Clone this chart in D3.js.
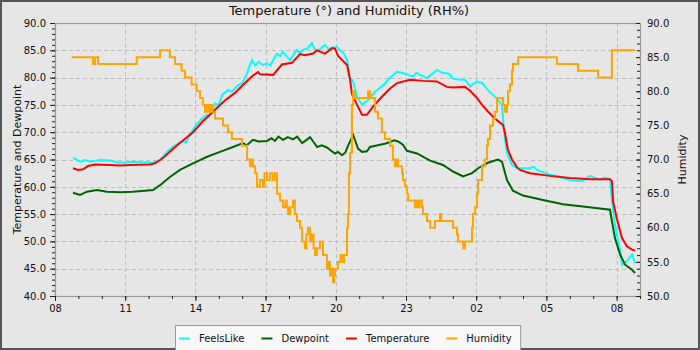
<!DOCTYPE html>
<html><head><meta charset="utf-8">
<script src="https://cdn.jsdelivr.net/npm/d3@7"></script>
<style>
body{margin:0;background:#fff;}
svg{display:block;font-family:"DejaVu Sans",sans-serif;}
</style></head>
<body><svg id="c" width="700" height="350"></svg>
<script>
// ---- data (x = clock hours since 00:00 of day 1; >24 = next day) ----
const title = "Temperature (°) and Humidity (RH%)";
const xTickHours = [8, 11, 14, 17, 20, 23, 26, 29, 32];
const tempTicks = [40, 45, 50, 55, 60, 65, 70, 75, 80, 85, 90];
const humTicks = [50, 55, 60, 65, 70, 75, 80, 85, 90];
const seriesNames = ["FeelsLike", "Dewpoint", "Temperature", "Humidity"];
const seriesColors = ["#00ffff", "#006400", "#ff0000", "#ffa500"];

const feelsLike = [[8.77,65.3],[9.07,64.6],[9.28,64.9],[9.50,64.6],[9.92,64.9],[10.35,64.8],[10.56,64.6],[10.78,64.4],[11.33,64.6],[12.19,64.4],[12.49,64.9],[12.79,66.4],[13.04,67.3],[13.43,68.3],[13.60,68.1],[13.77,69.6],[13.98,71.0],[14.28,72.5],[14.50,73.2],[14.60,72.9],[14.84,75.3],[15.00,75.0],[15.14,76.8],[15.39,77.7],[15.55,77.4],[15.82,78.6],[16.00,79.0],[16.12,80.0],[16.21,80.8],[16.30,82.0],[16.42,83.2],[16.55,82.2],[16.70,82.9],[16.89,82.3],[17.06,82.6],[17.20,82.2],[17.40,83.8],[17.49,84.4],[17.62,84.0],[17.74,84.7],[17.90,83.9],[18.04,83.2],[18.20,84.3],[18.34,85.1],[18.47,84.5],[18.60,85.1],[18.80,85.4],[18.98,86.3],[19.10,85.2],[19.24,84.9],[19.40,85.5],[19.54,86.0],[19.70,85.2],[19.88,85.5],[20.05,85.6],[20.18,85.0],[20.35,84.4],[20.48,83.2],[20.61,80.0],[20.74,79.3],[20.91,76.5],[21.12,75.0],[21.38,75.9],[21.68,77.4],[22.02,78.6],[22.32,80.0],[22.62,81.1],[22.87,80.8],[23.10,80.5],[23.30,80.2],[23.45,80.9],[23.60,80.5],[23.90,79.9],[24.10,80.6],[24.32,81.4],[24.55,80.9],[24.75,80.8],[24.88,80.5],[25.01,79.8],[25.31,79.6],[25.52,79.6],[25.74,78.4],[26.03,79.3],[26.25,79.0],[26.50,77.7],[26.80,76.5],[27.10,75.0],[27.15,72.2],[27.23,68.6],[27.32,66.1],[27.53,64.0],[27.74,63.4],[28.30,63.4],[28.45,63.7],[28.60,63.1],[29.15,62.2],[29.50,61.9],[30.01,61.2],[30.52,61.0],[30.86,62.0],[31.29,61.3],[31.50,61.7],[31.72,61.4],[31.80,57.6],[31.93,53.0],[32.15,48.2],[32.23,45.7],[32.44,46.4],[32.66,47.6],[32.71,47.0],[32.79,46.0]];

const dewpoint = [[8.77,58.9],[9.07,58.5],[9.37,59.1],[9.79,59.4],[10.22,59.1],[10.78,59.0],[11.33,59.1],[12.19,59.4],[12.49,60.3],[12.91,61.8],[13.34,63.1],[13.90,64.3],[14.50,65.5],[15.05,66.4],[15.61,67.3],[16.03,68.0],[16.20,67.6],[16.46,68.6],[16.70,68.3],[17.06,68.4],[17.25,68.9],[17.40,68.4],[17.55,69.2],[17.74,68.6],[17.95,69.1],[18.17,68.7],[18.35,69.2],[18.56,68.0],[18.75,68.6],[18.90,69.1],[19.05,68.2],[19.20,67.3],[19.40,67.6],[19.62,67.2],[19.80,66.6],[19.97,66.1],[20.10,66.4],[20.26,65.8],[20.40,66.2],[20.52,67.5],[20.74,69.5],[20.95,67.0],[21.12,66.4],[21.33,66.5],[21.46,67.3],[21.89,67.7],[22.10,67.9],[22.32,68.2],[22.50,68.5],[22.66,68.3],[22.87,67.7],[23.04,66.6],[23.47,66.1],[24.03,64.8],[24.58,64.0],[25.01,62.8],[25.44,61.9],[25.82,62.5],[26.08,63.4],[26.50,64.4],[26.93,65.0],[27.10,64.6],[27.32,61.2],[27.57,59.3],[28.00,58.4],[28.85,57.6],[29.71,56.8],[30.56,56.4],[31.72,55.8],[31.80,53.7],[31.93,50.6],[32.15,47.6],[32.37,45.7],[32.66,44.8],[32.79,44.2]];

const temperature = [[8.77,63.4],[8.98,63.1],[9.20,63.2],[9.41,63.8],[9.71,64.1],[10.35,64.0],[10.78,63.9],[11.21,64.0],[12.06,64.1],[12.27,64.3],[12.49,64.9],[12.70,65.6],[13.13,67.3],[13.56,68.8],[13.90,70.0],[14.32,72.0],[14.84,74.1],[15.26,75.8],[15.69,77.2],[16.12,79.0],[16.46,80.4],[16.68,81.0],[16.76,80.6],[17.32,80.5],[17.70,82.4],[18.13,82.7],[18.47,84.3],[18.68,84.1],[19.03,84.4],[19.20,85.0],[19.54,84.4],[19.84,85.4],[19.97,85.3],[20.09,84.0],[20.48,82.3],[20.61,79.6],[20.69,77.0],[20.91,75.0],[21.12,73.2],[21.33,73.2],[21.59,74.7],[21.97,76.5],[22.32,78.0],[22.62,79.0],[23.17,79.6],[23.73,79.4],[24.32,79.3],[24.75,78.3],[25.01,78.2],[25.52,78.3],[25.74,77.6],[26.03,76.3],[26.25,75.0],[26.50,73.8],[26.80,72.5],[27.15,71.3],[27.23,69.8],[27.36,66.7],[27.53,65.0],[27.74,63.6],[27.87,63.1],[28.30,62.5],[29.15,62.0],[30.01,61.6],[30.86,61.4],[31.72,61.4],[31.80,61.0],[31.85,57.3],[32.02,54.0],[32.23,50.6],[32.44,49.1],[32.66,48.5],[32.79,48.3]];

const humidity = [[8.71,85],[9.62,84],[9.71,85],[9.84,84],[11.49,85],[12.49,86],[12.91,85],[13.13,84],[13.41,83],[13.56,82],[13.84,81],[14.06,80],[14.20,79],[14.32,78],[14.41,77],[14.47,78],[14.54,77],[14.62,78],[14.71,77],[14.84,76],[15.18,75],[15.39,74],[15.56,73],[15.99,72],[16.21,70],[16.33,69],[16.40,70],[16.46,69],[16.55,68],[16.63,66],[16.75,67],[16.89,66],[16.95,68],[17.06,67],[17.18,68],[17.30,67],[17.40,68],[17.49,65],[17.62,64],[17.74,63],[17.85,64],[17.91,63],[17.96,62],[18.05,63],[18.17,64],[18.25,62],[18.34,61],[18.47,60],[18.56,58],[18.68,57],[18.74,59],[18.81,60],[18.90,58],[18.98,59],[19.05,57],[19.11,56],[19.20,57],[19.32,58],[19.45,56],[19.62,54],[19.70,55],[19.75,53],[19.82,54],[19.88,52],[19.93,53],[19.97,54],[20.09,55],[20.20,56],[20.26,55],[20.35,56],[20.48,60],[20.52,62],[20.56,68],[20.61,71],[20.69,78],[20.74,80],[20.82,79],[21.16,79],[21.38,80],[21.46,79],[21.68,77],[21.80,76],[21.97,74],[22.10,73],[22.32,72],[22.44,70],[22.53,69],[22.60,70],[22.66,69],[22.83,68],[22.87,67],[22.96,66],[23.04,65],[23.09,64],[23.38,63],[23.45,64],[23.51,63],[23.58,64],[23.68,63],[23.73,62],[23.90,61],[24.03,60],[24.24,61],[24.45,62],[24.50,61],[25.01,60],[25.18,59],[25.22,58],[25.44,57],[25.52,58],[25.82,60],[25.86,62],[25.95,63],[26.03,65],[26.08,67],[26.25,69],[26.37,70],[26.46,72],[26.50,73],[26.59,75],[26.72,76],[26.80,77],[26.89,79],[27.15,78],[27.23,77],[27.32,78],[27.36,80],[27.44,81],[27.53,83],[27.57,84],[27.79,85],[29.45,84],[30.35,83],[31.21,82],[31.80,86],[32.79,86]];

// ---- chart ----
const W = 700, H = 350;
const m = {left: 55, right: 60, top: 23, bottom: 54};
const pw = W - m.left - m.right, ph = H - m.top - m.bottom;
const svg = d3.select("#c");

svg.append("rect").attr("x",1).attr("y",1).attr("width",W-2).attr("height",H-2)
  .attr("fill","#e6e6e6").attr("stroke","#555").attr("stroke-width",2);

const x = d3.scaleLinear().domain([8, 33]).range([m.left, m.left + pw]);
const yT = d3.scaleLinear().domain([40, 90]).range([m.top + ph, m.top]);
const yH = d3.scaleLinear().domain([50, 90]).range([m.top + ph, m.top]);

// grid
const grid = svg.append("g").attr("stroke","#bdbdbd").attr("stroke-dasharray","4,3").attr("stroke-width",1);
xTickHours.slice(1).forEach(h => grid.append("line").attr("x1",Math.round(x(h))+0.5).attr("x2",Math.round(x(h))+0.5).attr("y1",m.top).attr("y2",m.top+ph));
tempTicks.slice(1,-1).forEach(v => grid.append("line").attr("y1",Math.round(yT(v))+0.5).attr("y2",Math.round(yT(v))+0.5).attr("x1",m.left).attr("x2",m.left+pw));

// lines
const line = (yS) => d3.line().x(d => x(d[0])).y(d => yS(d[1]));
const drawSeries = [[feelsLike, yT, d3.curveLinear], [dewpoint, yT, d3.curveLinear], [temperature, yT, d3.curveLinear], [humidity, yH, d3.curveStepAfter]];
drawSeries.forEach(([data, yS, curve], i) => {
  svg.append("path").datum(data).attr("fill","none").attr("stroke",seriesColors[i])
    .attr("stroke-width",2).attr("stroke-linejoin","miter")
    .attr("d", line(yS).curve(curve));
});

// frame
svg.append("rect").attr("x",m.left+0.5).attr("y",m.top+0.5).attr("width",pw).attr("height",ph)
  .attr("fill","none").attr("stroke","#999").attr("stroke-width",1.2);

const fmtHour = h => String(h % 24).padStart(2, "0");
function styleAxis(g){ g.select(".domain").remove(); g.selectAll("line").attr("stroke","#222"); g.selectAll("text").attr("fill","#111").style("font-size","10px").style("font-family","DejaVu Sans"); }

// x axis
svg.append("g").attr("transform",`translate(0,${m.top+ph})`)
  .call(d3.axisBottom(x).tickValues(d3.range(8,34)).tickSize(3).tickFormat("")).call(styleAxis);
svg.append("g").attr("transform",`translate(0,${m.top+ph})`)
  .call(d3.axisBottom(x).tickValues(xTickHours).tickSize(5).tickPadding(4).tickFormat(fmtHour)).call(styleAxis);

// left axis
svg.append("g").attr("transform",`translate(${m.left},0)`)
  .call(d3.axisLeft(yT).tickValues(d3.range(40,91)).tickSize(3).tickFormat("")).call(styleAxis);
svg.append("g").attr("transform",`translate(${m.left},0)`)
  .call(d3.axisLeft(yT).tickValues(tempTicks).tickSize(5).tickPadding(4).tickFormat(d3.format(".1f"))).call(styleAxis);

// right axis (ticks inward)
svg.append("g").attr("transform",`translate(${m.left+pw},0)`)
  .call(d3.axisRight(yH).tickValues(d3.range(50,91)).tickSize(-3).tickFormat("")).call(styleAxis);
svg.append("g").attr("transform",`translate(${m.left+pw},0)`)
  .call(d3.axisRight(yH).tickValues(humTicks).tickSize(-4).tickPadding(7).tickFormat(d3.format(".1f"))).call(styleAxis);

// titles
svg.append("text").attr("x",349).attr("y",15).attr("text-anchor","middle")
  .style("font-size","13px").attr("fill","#111").text(title);
svg.append("text").attr("transform",`translate(21,${m.top+ph/2}) rotate(-90)`).attr("text-anchor","middle")
  .style("font-size","11px").attr("fill","#111").text("Temperature and Dewpoint");
svg.append("text").attr("transform",`translate(686,${m.top+ph/2}) rotate(-90)`).attr("text-anchor","middle")
  .style("font-size","11px").attr("fill","#111").text("Humidity");

// legend
const leg = svg.append("g");
const legBox = leg.append("rect").attr("x",175.5).attr("y",325.5).attr("height",26).attr("fill","#f7f7f7").attr("stroke","#999");
let lx = 179;
seriesNames.forEach((n,i) => {
  leg.append("line").attr("x1",lx).attr("x2",lx+11).attr("y1",338.5).attr("y2",338.5).attr("stroke",seriesColors[i]).attr("stroke-width",2);
  const t = leg.append("text").attr("x",lx+20).attr("y",341.5).style("font-size","10px").attr("fill","#111").text(n);
  lx = lx + 20 + t.node().getComputedTextLength() + 17;
});
legBox.attr("width", lx - 17 + 9 - 175.5);
</script></body></html>
